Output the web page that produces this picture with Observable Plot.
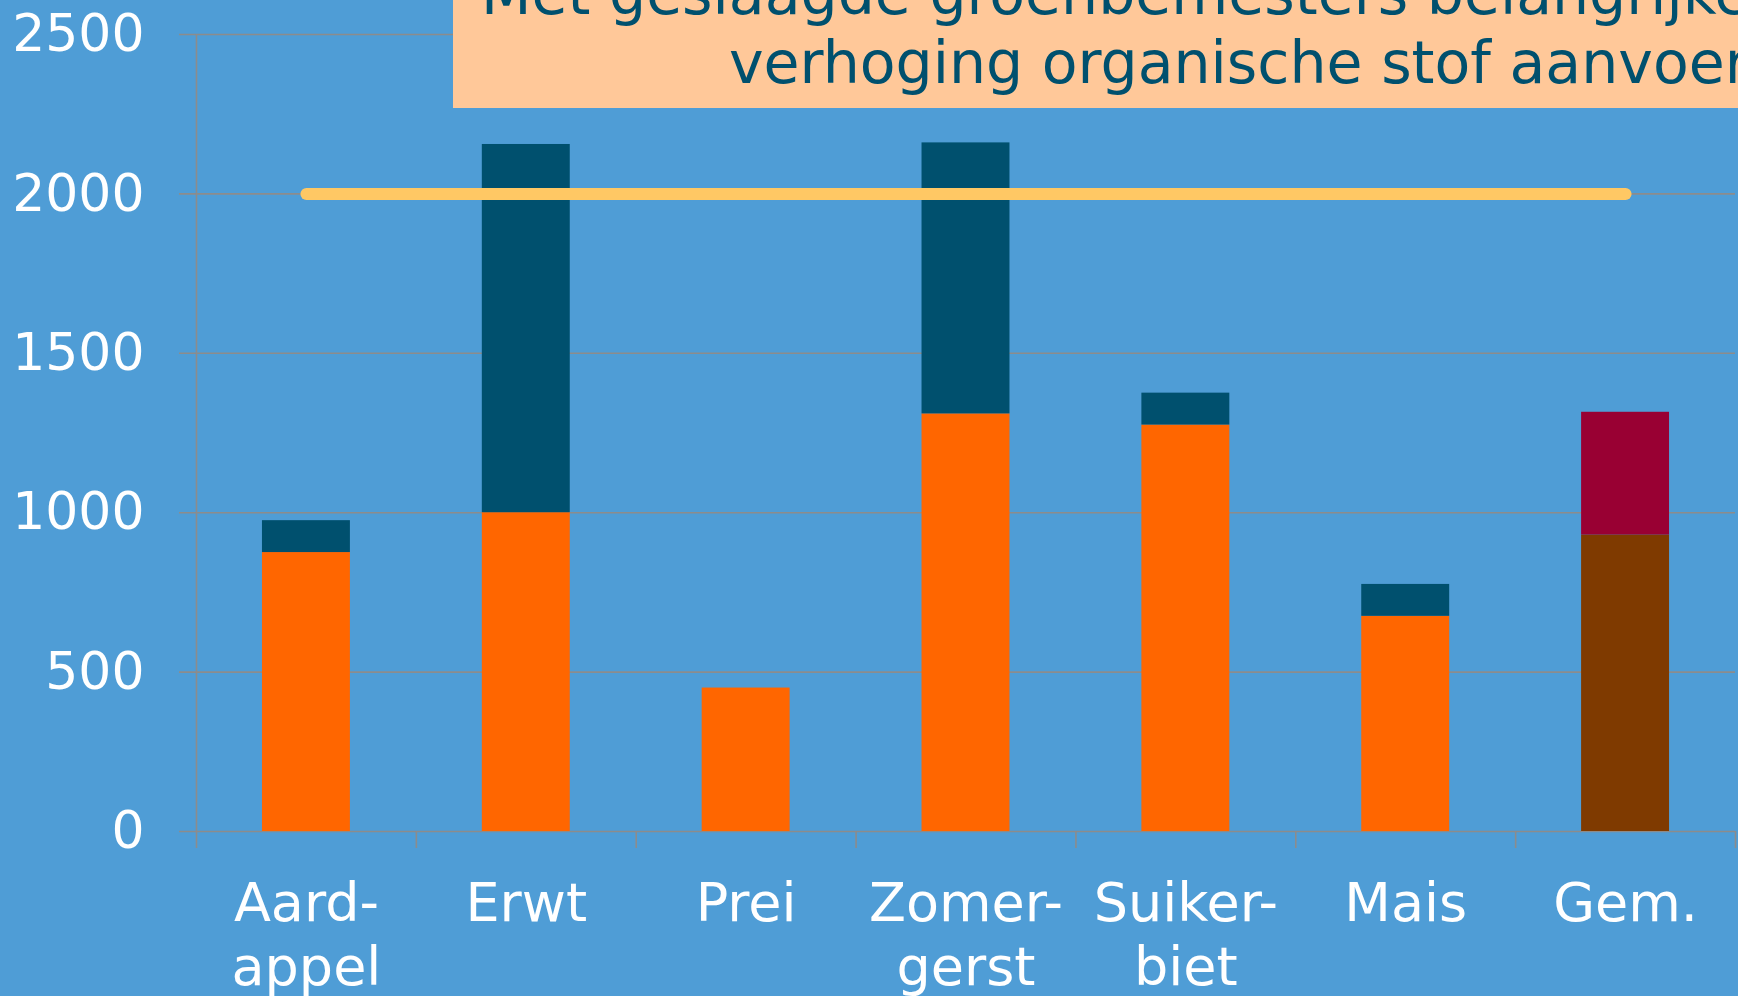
<!DOCTYPE html>
<html><head><meta charset="utf-8">
<script src="https://cdn.jsdelivr.net/npm/d3@7"></script>
<script src="https://cdn.jsdelivr.net/npm/@observablehq/plot@0.6"></script>
<style>
html,body{margin:0;padding:0;background:#4f9dd6;overflow:hidden;width:1738px;height:996px;}
#wrap{position:relative;width:1738px;height:996px;}
#chart svg{display:block;}
#title{position:absolute;left:0;top:0;}
</style></head><body>
<div id="wrap"><div id="chart"></div>
<svg id="title" width="1738" height="110">
  <rect x="453" y="0" width="1300" height="108" fill="#ffc899"></rect>
  <text x="481" y="14" font-family="DejaVu Sans" font-size="58.5" fill="#00506e">Met geslaagde groenbemesters belangrijke</text>
  <text x="729" y="83" font-family="DejaVu Sans" font-size="58.5" fill="#00506e">verhoging organische stof aanvoer</text>
</svg>
</div>
<script>
const categories = ["Aard-\nappel","Erwt","Prei","Zomer-\ngerst","Suiker-\nbiet","Mais","Gem."];
const basisValues = [875, 1000, 450, 1310, 1275, 675, 930];
const groenbemesterValues = [100, 1155, 0, 850, 100, 100, 385];
const yTicks = [0, 500, 1000, 1500, 2000, 2500];
const normValue = 2000;

const rows = [];
categories.forEach((c, i) => {
  const gem = c === "Gem.";
  rows.push({cat: c, value: basisValues[i], key: gem ? "gem-basis" : "basis"});
  rows.push({cat: c, value: groenbemesterValues[i], key: gem ? "gem-groen" : "groen"});
});

const W = 1738, H = 996, mL = 196, mR = 3, mT = 34, mB = 165;
const step = (W - mL - mR) / categories.length;
const grid = "#8c8c8c";

const plot = Plot.plot({
  width: W, height: H, marginLeft: mL, marginRight: mR, marginTop: mT, marginBottom: mB,
  style: {background: "transparent", fontFamily: "DejaVu Sans", color: "white", overflow: "visible"},
  x: {domain: categories, paddingInner: 0.6, paddingOuter: 0.3, round: false, axis: null},
  y: {domain: [0, d3.max(yTicks)], axis: null},
  color: {domain: ["basis", "groen", "gem-basis", "gem-groen"], range: ["#ff6600", "#00506e", "#7f3a00", "#990033"]},
  marks: [
    Plot.ruleY(yTicks, {y: d => d, stroke: grid, strokeWidth: 1.6, insetLeft: -17}),
    Plot.ruleX([categories[0]], {x: d => d, dx: -step / 2, y1: () => 0, y2: () => d3.max(yTicks), stroke: grid, strokeWidth: 1.6}),
    Plot.ruleX(categories, {x: d => d, dx: -step / 2, y1: () => 0, y2: () => 0, insetBottom: -17, stroke: grid, strokeWidth: 1.6}),
    Plot.ruleX([categories[categories.length - 1]], {x: d => d, dx: step / 2, y1: () => 0, y2: () => 0, insetBottom: -17, stroke: grid, strokeWidth: 1.6}),
    Plot.barY(rows, Plot.stackY({x: "cat", y: "value", fill: "key"})),
    Plot.lineY(categories, {x: d => d, y: () => normValue, stroke: "#ffc864", strokeWidth: 12, strokeLinecap: "round"}),
    Plot.text(yTicks, {y: d => d, text: d => String(d), frameAnchor: "left", textAnchor: "end", dx: -52, fontSize: 52, fill: "white"}),
    Plot.text(categories, {x: d => d, text: d => d, frameAnchor: "bottom", lineAnchor: "top", dy: 44, lineHeight: 1.19, fontSize: 54, fill: "white"})
  ]
});
document.getElementById("chart").appendChild(plot);
</script>
</body></html>
